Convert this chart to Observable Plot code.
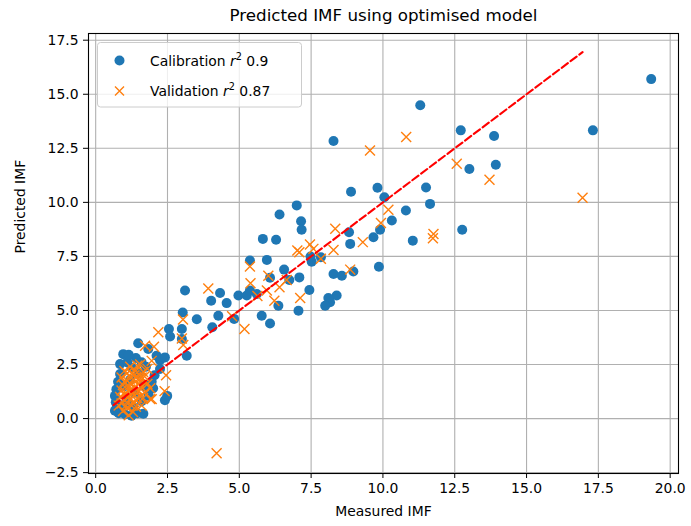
<!DOCTYPE html>
<html>
<head>
<meta charset="utf-8">
<script src="https://cdn.jsdelivr.net/npm/d3@7"></script>
<script src="https://cdn.jsdelivr.net/npm/@observablehq/plot@0.6"></script>
<style>
  body { margin: 0; background: #fff; font-family: "DejaVu Sans", sans-serif; }
  #wrap { position: relative; width: 691px; height: 526px; }
  #legend { position: absolute; left: 0; top: 0; pointer-events: none; }
</style>
</head>
<body>
<div id="wrap"></div>
<script>
// Calibration (blue circles): measured, predicted
const calX = [19.34,11.30,8.28,12.71,13.87,17.31,13.01,13.93,11.50,11.64,9.81,8.89,10.05,10.80,7.00,10.31,9.90,9.67,8.82,8.86,11.04,12.76,8.28,8.57,8.97,9.86,8.39,8.16,6.40,7.15,7.17,5.82,6.28,5.96,7.52,7.48,7.84,6.56,6.07,6.74,7.09,5.37,7.44,8.10,7.99,7.06,5.78,6.07,6.36,4.97,5.26,5.37,5.61,4.33,4.02,4.56,3.11,3.03,3.52,4.27,4.82,4.06,2.55,3.00,2.59,3.00,3.17,
  0.67,0.70,0.67,0.73,0.80,1.02,1.25,1.45,1.66,0.72,0.78,0.85,0.85,0.96,1.10,1.25,1.48,1.40,1.60,1.83,2.12,2.24,2.41,2.24,2.05,1.95,2.00,1.85,1.60,2.41,2.49,1.30,1.10,0.90,1.20,1.50,1.75,1.00,1.35,1.70,1.15];
const calY = [15.70,14.49,12.84,13.33,13.07,13.33,11.54,11.74,10.69,9.93,10.68,10.49,10.24,9.62,9.86,9.16,8.73,8.39,8.62,8.08,8.23,8.73,6.69,6.61,6.80,7.02,5.69,5.38,9.44,9.13,8.73,8.31,8.27,7.34,7.25,7.50,7.46,6.89,6.51,6.41,6.53,7.31,5.95,5.58,5.22,4.99,4.76,4.40,5.22,5.69,5.69,5.92,5.76,5.81,5.45,5.34,5.92,4.91,4.59,4.76,4.61,4.22,4.14,4.14,3.80,3.68,2.91,
  1.05,0.75,0.36,0.50,0.25,0.20,0.13,0.25,0.22,1.35,1.70,2.06,2.52,2.98,2.60,2.35,3.48,2.80,2.60,3.22,2.91,2.70,2.83,2.29,2.00,1.70,1.40,1.05,0.80,0.85,1.05,0.55,0.80,0.60,1.80,2.10,2.40,1.50,1.20,1.50,2.95];

// Validation (orange crosses): measured, predicted
const valX = [16.95,9.55,10.81,12.57,13.71,8.34,8.28,9.30,9.93,10.19,11.76,11.74,8.86,7.46,7.02,7.09,7.58,7.84,6.01,6.65,6.40,5.96,7.12,6.22,5.37,5.39,5.63,3.92,3.04,4.75,5.18,2.18,3.00,3.05,4.21,
  0.80,0.85,0.90,0.95,1.00,1.00,1.05,1.10,1.10,1.15,1.20,1.20,1.25,1.30,1.30,1.35,1.40,1.45,1.50,1.50,1.55,1.60,1.60,1.70,1.75,1.80,1.90,1.90,1.00,0.90,1.25,1.40,1.15,1.65,1.35,1.72,2.03,1.95,2.45,2.40,1.95,
  0.95,1.05,1.15,1.25,1.30,1.40,1.45,1.55,1.60,1.20,1.10,1.35,1.50,1.00,0.90,1.70,1.80,1.25,1.45,1.65];
const valY = [10.21,12.40,13.02,11.79,11.05,8.78,7.80,8.16,9.05,9.66,8.54,8.34,6.89,8.05,7.77,7.69,7.85,7.39,6.61,6.41,6.07,5.92,5.58,5.45,7.03,6.26,5.67,6.02,4.58,4.73,4.14,3.99,3.70,3.40,-1.60,
  0.60,1.00,1.30,0.35,0.85,1.70,1.20,0.50,2.10,1.50,0.90,2.40,1.20,1.80,0.30,1.45,2.20,0.95,1.60,1.25,2.50,0.60,1.90,1.20,1.70,2.30,0.90,1.40,2.20,1.90,0.60,1.90,0.15,2.15,0.75,3.37,3.32,2.67,2.00,1.27,0.90,
  1.55,0.60,1.00,1.55,1.00,0.55,1.35,1.00,1.45,1.35,1.75,2.00,1.85,1.10,0.70,1.95,1.60,2.10,2.45,0.95];

// 1:1 reference line
const lineX = [0.62, 16.95];

const xTicks = [0, 2.5, 5, 7.5, 10, 12.5, 15, 17.5, 20];
const yTicks = [-2.5, 0, 2.5, 5, 7.5, 10, 12.5, 15, 17.5];

const title = "Predicted IMF using optimised model";
const xLabel = "Measured IMF";
const yLabel = "Predicted IMF";
const legendLabels = [["Calibration", "0.9"], ["Validation", "0.87"]];

const cal = calX.map((x, i) => ({x, y: calY[i]}));
const val = valX.map((x, i) => ({x, y: valY[i]}));
const line = lineX.map(v => ({x: v, y: v}));

const fmt = d3.format(".1f");
const chart = Plot.plot({
  width: 691,
  height: 526,
  marginLeft: 88,
  marginRight: 13,
  marginTop: 33,
  marginBottom: 53,
  style: {fontFamily: "DejaVu Sans", fontSize: "13.9px", color: "#000", background: "#fff"},
  x: {domain: [-0.25, 20.29]},
  y: {domain: [-2.54, 17.81]},
  marks: [
    Plot.gridX(xTicks, {stroke: "#b0b0b0", strokeOpacity: 1, strokeWidth: 1.1}),
    Plot.gridY(yTicks, {stroke: "#b0b0b0", strokeOpacity: 1, strokeWidth: 1.1}),
    Plot.dot(cal, {x: "x", y: "y", r: 5, fill: "#1f77b4", stroke: "none"}),
    Plot.dot(val, {x: "x", y: "y", r: 4.6, symbol: "times", stroke: "#ff7f0e", strokeWidth: 1.4}),
    Plot.line(line, {x: "x", y: "y", stroke: "red", strokeWidth: 2.1, strokeDasharray: "7.7,3.3"}),
    Plot.frame({stroke: "#000", strokeWidth: 1.1}),
    Plot.axisX(xTicks, {tickFormat: fmt, tickSize: 5, tickPadding: 5, label: null, fontSize: 13.9}),
    Plot.axisY(yTicks, {tickFormat: fmt, tickSize: 5, tickPadding: 5, label: null, fontSize: 13.9}),
    Plot.text([title], {frameAnchor: "top", dy: -13, lineAnchor: "bottom", fontSize: 16.7}),
    Plot.text([xLabel], {frameAnchor: "bottom", dy: 33, lineAnchor: "top", fontSize: 13.9}),
    Plot.text([yLabel], {frameAnchor: "left", dx: -68, rotate: -90, fontSize: 13.9})
  ]
});
const wrap = document.getElementById("wrap");
wrap.appendChild(chart);

// Legend overlay (inside the axes, upper left)
const ns = "http://www.w3.org/2000/svg";
const lg = document.createElementNS(ns, "svg");
lg.setAttribute("id", "legend");
lg.setAttribute("width", 691);
lg.setAttribute("height", 526);
lg.setAttribute("font-family", "DejaVu Sans");
lg.setAttribute("font-size", "13.9");
lg.innerHTML = `
  <rect x="97.5" y="42.5" width="204" height="64.5" rx="3" fill="rgba(255,255,255,0.8)" stroke="#cccccc" stroke-width="1"/>
  <circle cx="119.5" cy="60.5" r="5" fill="#1f77b4"/>
  <path d="M115,86.5L124,95.5M115,95.5L124,86.5" stroke="#ff7f0e" stroke-width="1.4" fill="none"/>
  <text x="150" y="65.5">${legendLabels[0][0]} <tspan font-style="italic">r</tspan><tspan dy="-6" font-size="9.7">2</tspan><tspan dy="6"> ${legendLabels[0][1]}</tspan></text>
  <text x="150" y="95.5">${legendLabels[1][0]} <tspan font-style="italic">r</tspan><tspan dy="-6" font-size="9.7">2</tspan><tspan dy="6"> ${legendLabels[1][1]}</tspan></text>
`;
wrap.appendChild(lg);
</script>
</body>
</html>
